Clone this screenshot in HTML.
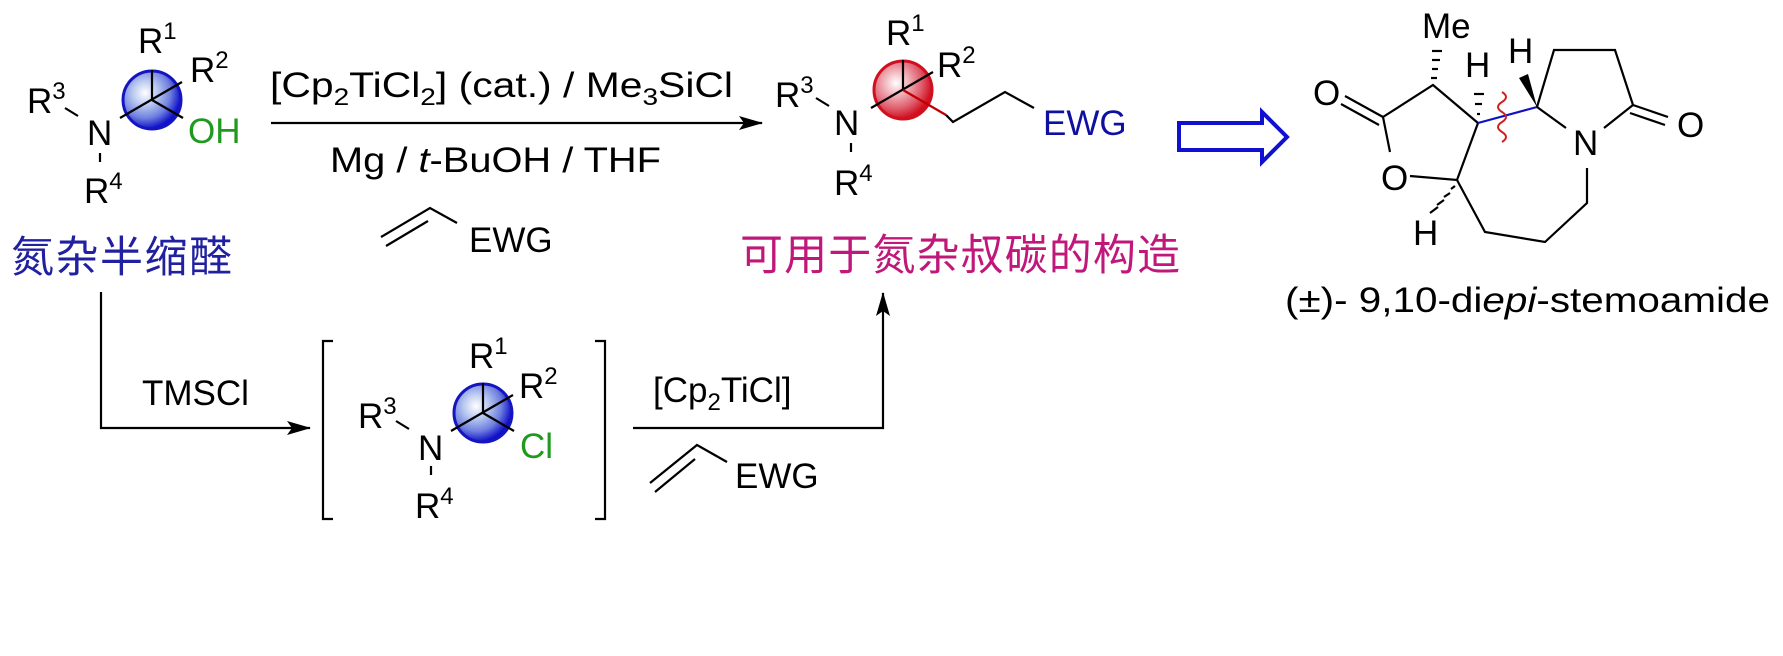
<!DOCTYPE html>
<html><head><meta charset="utf-8"><style>
html,body{margin:0;padding:0;background:#fff;}
svg{display:block;}
text{font-family:"Liberation Sans",Arial,sans-serif;font-size:35px;fill:#000;}
.cn{font-family:"Liberation Sans","Noto Sans CJK SC",sans-serif;font-size:43px;}
</style></head><body>
<svg width="1783" height="656" viewBox="0 0 1783 656" xmlns="http://www.w3.org/2000/svg">
<defs>
<radialGradient id="gb" cx="0.38" cy="0.38" r="0.62">
<stop offset="0" stop-color="#ffffff"/><stop offset="0.35" stop-color="#b8c8f0"/><stop offset="0.7" stop-color="#6f80e0"/><stop offset="1" stop-color="#1010c8"/>
</radialGradient>
<radialGradient id="gr" cx="0.38" cy="0.38" r="0.62">
<stop offset="0" stop-color="#ffffff"/><stop offset="0.35" stop-color="#f0b0b8"/><stop offset="0.7" stop-color="#e06070"/><stop offset="1" stop-color="#d01020"/>
</radialGradient>
<marker id="ah" markerWidth="24" markerHeight="14" refX="23" refY="7" orient="auto" markerUnits="userSpaceOnUse">
<path d="M0,0 L24,7 L0,14 L5,7 z" fill="#000"/></marker>
</defs>
<g stroke="#000" stroke-width="2.2" fill="none">
<circle cx="152" cy="100" r="29" fill="url(#gb)" stroke="#1515c0" stroke-width="3"/>
<line x1="120" y1="118" x2="182" y2="82"/>
<line x1="152" y1="100" x2="152" y2="70"/>
<line x1="152" y1="100" x2="183" y2="118"/>
<line x1="65" y1="108" x2="78" y2="116"/>
<line x1="100" y1="153" x2="100" y2="162"/>
<g transform="translate(331,313)">
<circle cx="152" cy="100" r="29" fill="url(#gb)" stroke="#1515c0" stroke-width="3"/>
<line x1="120" y1="118" x2="182" y2="82"/>
<line x1="152" y1="100" x2="152" y2="70"/>
<line x1="152" y1="100" x2="183" y2="118"/>
<line x1="65" y1="108" x2="78" y2="116"/>
<line x1="100" y1="153" x2="100" y2="162"/>
</g>
<g transform="translate(751,-10)">
<circle cx="152" cy="100" r="29" fill="url(#gr)" stroke="#d01020" stroke-width="3"/>
<line x1="120" y1="118" x2="182" y2="82"/>
<line x1="152" y1="100" x2="152" y2="70"/>
<line x1="152" y1="100" x2="195" y2="125" stroke="#c00000"/>
<line x1="65" y1="108" x2="78" y2="116"/>
<line x1="100" y1="153" x2="100" y2="162"/>
</g>
<polyline points="946,115 953,122 1005,92 1034,108"/>
<line x1="271" y1="123" x2="762" y2="123" marker-end="url(#ah)"/>
<polyline points="101,292 101,428 310,428" marker-end="url(#ah)"/>
<polyline points="633,428 883,428 883,293" marker-end="url(#ah)"/>
<polyline points="333,341 323,341 323,519 333,519"/>
<polyline points="595,341 605,341 605,519 595,519"/>
<polyline points="381,237 430,208 457,223"/>
<line x1="386" y1="246" x2="428" y2="221"/>
<polyline points="650,483 697,445 727,462"/>
<line x1="655" y1="492" x2="695" y2="459"/>
</g>
<path d="M1179,123 L1262,123 L1262,112 L1287,137 L1262,162 L1262,150 L1179,150 Z" fill="#fff" stroke="#1010d0" stroke-width="4"/>
<g stroke="#000" stroke-width="2.2" fill="none">
<line x1="1345" y1="96" x2="1383" y2="117"/>
<line x1="1341" y1="104" x2="1379" y2="125"/>
<polyline points="1390,152 1383,117 1433,85 1478,123 1457,180 1410,176"/>
<polyline points="1457,180 1485,232 1545,242 1587,203 1587,168"/>
<line x1="1478" y1="123" x2="1537" y2="107" stroke="#1010c0"/>
<line x1="1537" y1="107" x2="1566" y2="128"/>
<polyline points="1537,107 1554,50 1615,50 1633,105 1604,128"/>
<line x1="1633" y1="105" x2="1668" y2="117"/>
<line x1="1630" y1="113" x2="1665" y2="125"/>
<line x1="1431" y1="78" x2="1437" y2="78"/><line x1="1432" y1="69" x2="1438" y2="69"/><line x1="1432" y1="60" x2="1440" y2="60"/><line x1="1432" y1="51" x2="1442" y2="51"/>
<line x1="1477" y1="114" x2="1480" y2="114"/><line x1="1475" y1="104" x2="1482" y2="104"/><line x1="1474" y1="94" x2="1484" y2="94"/>
<line x1="1451" y1="189" x2="1455" y2="186"/><line x1="1444" y1="197" x2="1450" y2="193"/><line x1="1437" y1="205" x2="1444" y2="200"/><line x1="1430" y1="213" x2="1438" y2="207"/>
<path d="M1502,92 q8,5 0,10 q-8,5 0,10 q8,5 0,10 q-8,5 0,10 q8,5 0,10" stroke="#d02020" stroke-width="2"/>
</g>
<path d="M1537,107 L1519,78 L1528,74 Z" fill="#000"/>
<text x="138" y="53">R<tspan font-size="24" dy="-14">1</tspan></text>
<text x="190" y="82">R<tspan font-size="24" dy="-14">2</tspan></text>
<text x="27" y="113">R<tspan font-size="24" dy="-14">3</tspan></text>
<text x="87" y="145">N</text>
<text x="84" y="203">R<tspan font-size="24" dy="-14">4</tspan></text>
<text x="188" y="143" style="fill:#1f9a1f">OH</text>
<g transform="translate(331,313)">
<text x="138" y="55">R<tspan font-size="24" dy="-14">1</tspan></text>
<text x="188" y="85">R<tspan font-size="24" dy="-14">2</tspan></text>
<text x="27" y="115">R<tspan font-size="24" dy="-14">3</tspan></text>
<text x="87" y="147">N</text>
<text x="84" y="205">R<tspan font-size="24" dy="-14">4</tspan></text>
<text x="189" y="145" style="fill:#1f9a1f">Cl</text>
</g>
<text x="886" y="45">R<tspan font-size="24" dy="-14">1</tspan></text>
<text x="937" y="77">R<tspan font-size="24" dy="-14">2</tspan></text>
<text x="775" y="107">R<tspan font-size="24" dy="-14">3</tspan></text>
<text x="834" y="135">N</text>
<text x="834" y="195">R<tspan font-size="24" dy="-14">4</tspan></text>
<text x="1043" y="135" style="fill:#1010a0">EWG</text>
<text x="270" y="97" textLength="463" lengthAdjust="spacingAndGlyphs">[Cp<tspan font-size="24" dy="8">2</tspan><tspan dy="-8">TiCl</tspan><tspan font-size="24" dy="8">2</tspan><tspan dy="-8">] (cat.) / Me</tspan><tspan font-size="24" dy="8">3</tspan><tspan dy="-8">SiCl</tspan></text>
<text x="330" y="172" textLength="331" lengthAdjust="spacingAndGlyphs">Mg / <tspan font-style="italic">t</tspan>-BuOH / THF</text>
<text x="469" y="252">EWG</text>
<text class="cn" x="11" y="272" style="fill:#2020a0" textLength="221">氮杂半缩醛</text>
<text class="cn" x="740" y="270" style="fill:#c0187a" textLength="440">可用于氮杂叔碳的构造</text>
<text x="142" y="405">TMSCl</text>
<text x="653" y="402">[Cp<tspan font-size="24" dy="8">2</tspan><tspan dy="-8">TiCl]</tspan></text>
<text x="735" y="488">EWG</text>
<text x="1313" y="105">O</text>
<text x="1381" y="190">O</text>
<text x="1422" y="38">Me</text>
<text x="1465" y="77">H</text>
<text x="1413" y="245">H</text>
<text x="1508" y="63">H</text>
<text x="1573" y="155">N</text>
<text x="1677" y="137">O</text>
<text x="1285" y="312" font-size="38" textLength="485" lengthAdjust="spacingAndGlyphs">(±)- 9,10-di<tspan font-style="italic">epi</tspan>-stemoamide</text>
</svg>
</body></html>
